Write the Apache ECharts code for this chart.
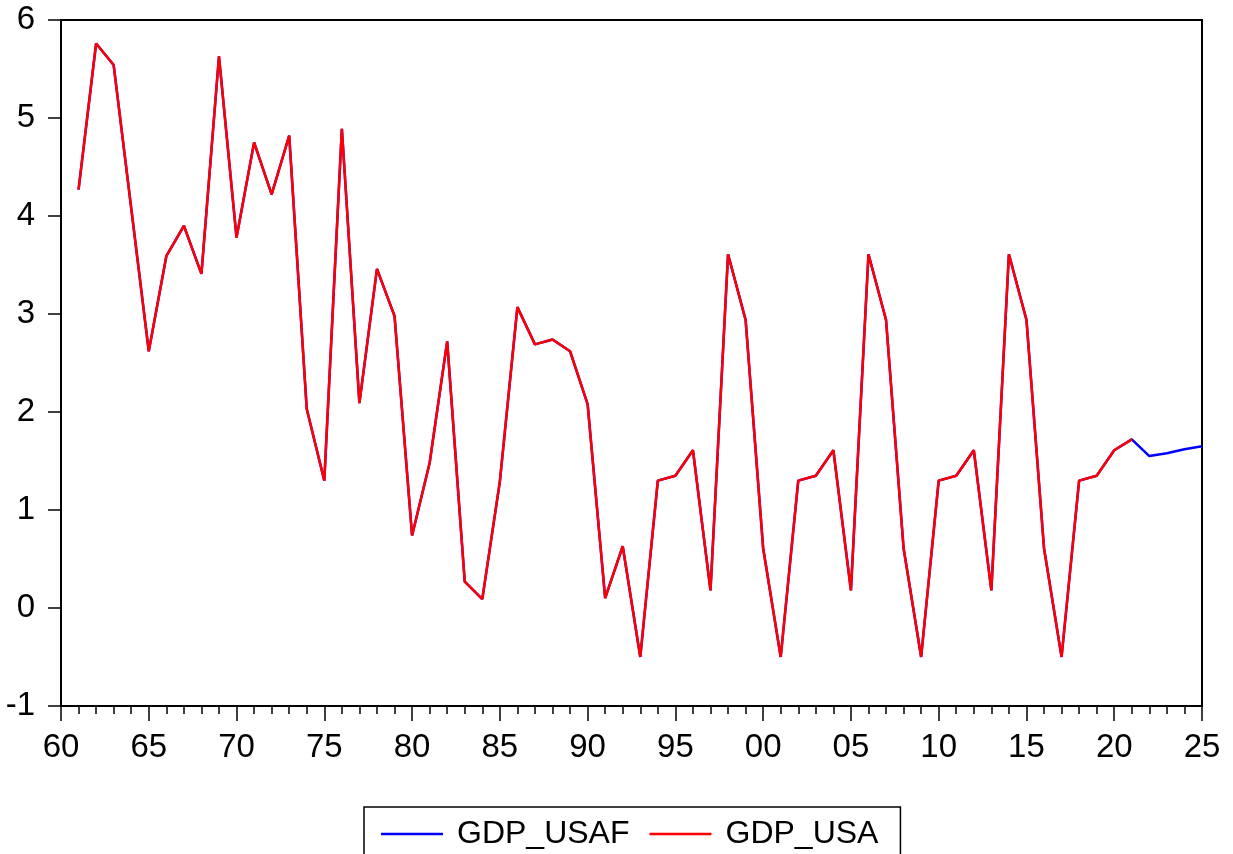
<!DOCTYPE html>
<html>
<head>
<meta charset="utf-8">
<script src="https://cdn.jsdelivr.net/npm/echarts@6/dist/echarts.min.js"></script>
<style>html,body{margin:0;padding:0;background:#fff;}#chart{width:1233px;height:854px;}</style>
</head>
<body>
<div id="chart"></div>
<script>
const yearsHist = [1961,1962,1963,1964,1965,1966,1967,1968,1969,1970,1971,1972,1973,1974,1975,1976,1977,1978,1979,1980,1981,1982,1983,1984,1985,1986,1987,1988,1989,1990,1991,1992,1993,1994,1995,1996,1997,1998,1999,2000,2001,2002,2003,2004,2005,2006,2007,2008,2009,2010,2011,2012,2013,2014,2015,2016,2017,2018,2019,2020,2021];
const gdpUSA = [4.27,5.76,5.54,4.08,2.62,3.59,3.90,3.41,5.63,3.78,4.75,4.22,4.82,2.03,1.30,4.89,2.09,3.46,2.98,0.74,1.48,2.72,0.27,0.09,1.29,3.07,2.69,2.74,2.62,2.08,0.10,0.63,-0.50,1.30,1.35,1.61,0.18,3.61,2.94,0.61,-0.50,1.30,1.35,1.61,0.18,3.61,2.94,0.61,-0.50,1.30,1.35,1.61,0.18,3.61,2.94,0.61,-0.50,1.30,1.35,1.61,1.72];
const yearsForecast = [2022,2023,2024,2025];
const gdpUSAFForecast = [1.55,1.58,1.62,1.65];
const xTickYears = [1960,1965,1970,1975,1980,1985,1990,1995,2000,2005,2010,2015,2020,2025];
const yTicks = [-1,0,1,2,3,4,5,6];

const usaData = yearsHist.map((y,i)=>[y,gdpUSA[i]]);
const usafData = yearsHist.concat(yearsForecast).map((y,i)=>[y, gdpUSA.concat(gdpUSAFForecast)[i]]);

const FONT = 'Liberation Sans, Arial, sans-serif';
const chart = echarts.init(document.getElementById('chart'));
chart.setOption({
  animation:false,
  backgroundColor:'#fff',
  grid:{left:61,top:20,right:31,bottom:148,show:true,borderColor:'#000',borderWidth:2,backgroundColor:'transparent'},
  xAxis:{type:'value',min:xTickYears[0],max:xTickYears[xTickYears.length-1],interval:5,
    axisLine:{show:true,onZero:false,lineStyle:{color:'#000',width:2}},
    axisTick:{show:true,inside:false,length:15,lineStyle:{color:'#000',width:1.5}},
    minorTick:{show:true,splitNumber:5,length:8,lineStyle:{color:'#000',width:1.5}},
    splitLine:{show:false},
    axisLabel:{color:'#000',fontSize:33,fontFamily:FONT,margin:25,
      formatter:v=>String(v%100).padStart(2,'0')}},
  yAxis:{type:'value',min:yTicks[0],max:yTicks[yTicks.length-1],interval:1,
    axisLine:{show:true,lineStyle:{color:'#000',width:2}},
    axisTick:{show:true,inside:false,length:13,lineStyle:{color:'#000',width:1.5}},
    splitLine:{show:false},
    axisLabel:{color:'#000',fontSize:33,fontFamily:FONT,margin:26}},
  legend:{left:364,top:807,orient:'horizontal',padding:[11,22,30,17],itemGap:20,itemWidth:62,itemHeight:2.5,
    icon:'rect',
    borderColor:'#000',borderWidth:1.5,
    textStyle:{color:'#000',fontSize:32,fontFamily:FONT,padding:[0,0,0,9]},
    data:['GDP_USAF','GDP_USA']},
  series:[
    {name:'GDP_USAF',type:'line',data:usafData,symbol:'none',lineStyle:{color:'#0000FF',width:2.5},itemStyle:{color:'#0000FF'}},
    {name:'GDP_USA',type:'line',data:usaData,symbol:'none',lineStyle:{color:'#FF0000',width:2.5},itemStyle:{color:'#FF0000'}}
  ]
});
</script>
</body>
</html>
